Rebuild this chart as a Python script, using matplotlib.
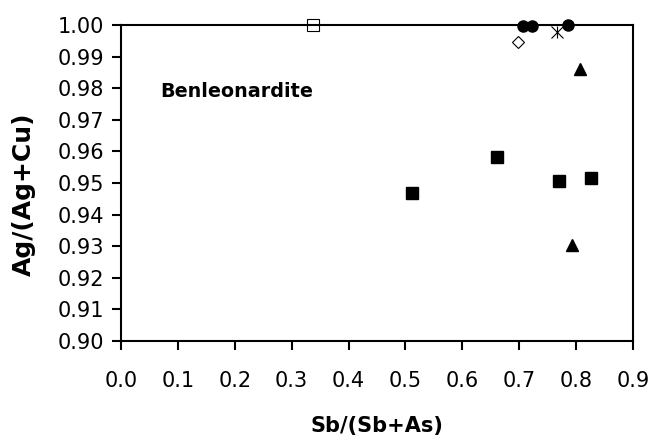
import matplotlib
matplotlib.use("Agg")
import matplotlib.pyplot as plt

plt.rcParams['font.family'] = ['DejaVu Sans']

sq_open_x = [0.337]
sq_open_y = [1.000]
circ_x = [0.706, 0.722, 0.786]
circ_y = [0.9997, 0.9997, 1.000]
diam_x = [0.698]
diam_y = [0.9946]
star_x = [0.766]
star_y = [0.9978]
tri_x = [0.807, 0.793]
tri_y = [0.9862, 0.9304]
sq_x = [0.511, 0.661, 0.770, 0.826]
sq_y = [0.9468, 0.9582, 0.9506, 0.9516]

xticks = [0.0, 0.1, 0.2, 0.3, 0.4, 0.5, 0.6, 0.7, 0.8, 0.9]
yticks = [0.90, 0.91, 0.92, 0.93, 0.94, 0.95, 0.96, 0.97, 0.98, 0.99, 1.00]

fig = plt.figure(figsize=(6.5, 4.41), dpi=100)
ax = fig.add_axes([121/650, 1-341/441, 512/650, 316/441])

ax.plot(sq_x, sq_y, 's', color='black', markersize=8, clip_on=False, zorder=3)
ax.plot(tri_x, tri_y, '^', color='black', markersize=9, clip_on=False, zorder=3)
ax.plot(circ_x, circ_y, 'o', color='black', markersize=8, clip_on=False, zorder=3)
ax.plot(sq_open_x, sq_open_y, 's', mfc='none', mec='black', mew=0.8, markersize=8.5, clip_on=False, zorder=3)
ax.plot(diam_x, diam_y, 'D', mfc='none', mec='black', mew=0.8, markersize=6.3, clip_on=False, zorder=3)
ax.plot(star_x, star_y, 'x', color='black', mew=0.8, markersize=8.5, clip_on=False, zorder=3)
ax.plot(star_x, star_y, '|', color='black', mew=0.8, markersize=8.5, clip_on=False, zorder=3)

ax.set_xlim(0, 0.9)
ax.set_ylim(0.90, 1.00)
ax.set_xticks(xticks)
ax.set_xticklabels([f"{v:.1f}" for v in xticks])
ax.set_yticks(yticks)
ax.set_yticklabels([f"{v:.2f}" for v in yticks])

for s in ax.spines.values():
    s.set_linewidth(1.5)
ax.tick_params(axis='both', direction='out', length=6.5, width=1.5, labelsize=15)
ax.tick_params(axis='x', pad=15)
ax.tick_params(axis='y', pad=5.5)

ax.set_xlabel('Sb/(Sb+As)', fontsize=15, fontweight='bold')
ax.set_ylabel('Ag/(Ag+Cu)', fontsize=18, fontweight='bold')
ax.xaxis.set_label_coords(0.5, -0.236)
ax.yaxis.set_label_coords(-0.166, 0.464)

ax.text(0.069, 0.97722, 'Benleonardite', fontsize=13.8, fontweight='bold', va='baseline', ha='left')

fig.savefig('out.png', dpi=100)
